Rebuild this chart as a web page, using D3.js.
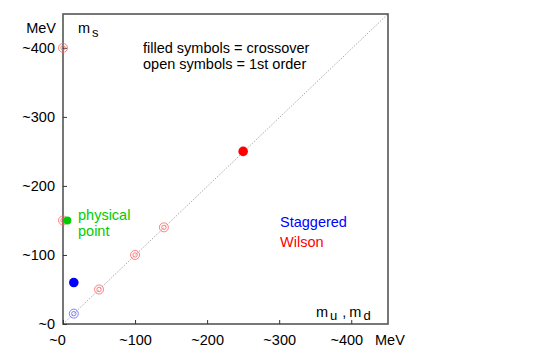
<!DOCTYPE html>
<html>
<head>
<script src="https://cdn.jsdelivr.net/npm/d3@7"></script>
<style>
  body { margin: 0; background: #fff; }
  svg { font-family: "Liberation Sans", Arial, sans-serif; }
</style>
</head>
<body>
<svg id="svg" width="540" height="360"></svg>
<script>
// data (MeV)
var xTicks = [0, 100, 200, 300, 400];
var yTicks = [0, 100, 200, 300, 400];
var wilsonOpen = [[0, 400], [0, 150], [50, 50], [100, 100], [140, 140]];
var wilsonFilled = [[250, 250]];
var staggeredOpen = [[15, 15]];
var staggeredFilled = [[15, 60]];
var physicalPoint = [[6, 150]];

// plot box (note: "top" is a reserved window property, so use other names)
var plotL = 63, plotR = 388, plotT = 14, plotB = 324;
var fs = 14.5;
var svg = d3.select("#svg");

var x = d3.scaleLinear().domain([0, 451]).range([plotL, plotR]);
var y = d3.scaleLinear().domain([0, 449]).range([plotB, plotT]);

// diagonal
svg.append("line")
  .attr("x1", x(0)).attr("y1", y(0))
  .attr("x2", x(451)).attr("y2", y(449))
  .attr("stroke", "#aaa").attr("stroke-width", 1)
  .attr("stroke-dasharray", "1.5,1.5");

// frame
svg.append("rect")
  .attr("x", plotL).attr("y", plotT)
  .attr("width", plotR - plotL).attr("height", plotB - plotT)
  .attr("fill", "none").attr("stroke", "#555").attr("stroke-width", 1.6);

// axes
var xAxis = d3.axisBottom(x).tickValues(xTicks).tickSize(-4).tickFormat(function(d){ return "~" + d; });
var gX = svg.append("g").attr("transform", "translate(0," + plotB + ")").call(xAxis);
var yAxis = d3.axisLeft(y).tickValues(yTicks).tickSize(-4).tickFormat(function(d){ return "~" + d; });
var gY = svg.append("g").attr("transform", "translate(" + plotL + ",0)").call(yAxis);
[gX, gY].forEach(function(g){
  g.select(".domain").remove();
  g.selectAll("line").attr("stroke", "#333");
  g.selectAll("text").attr("font-size", fs).attr("fill", "#000")
    .style("font-family", "'Liberation Sans', Arial, sans-serif");
});
gX.selectAll("text").attr("y", 6).attr("dy", "1em").attr("x", function(d){ return d === 0 ? -6 : (d === 400 ? -5 : 0); });
gY.selectAll("text").attr("x", -8);

function openSym(data, color) {
  var g = svg.append("g");
  g.selectAll(".o").data(data).enter().append("circle")
    .attr("cx", function(d){ return x(d[0]); }).attr("cy", function(d){ return y(d[1]); })
    .attr("r", 4.5).attr("fill", "none").attr("stroke", color).attr("stroke-width", 0.8);
  g.selectAll(".i").data(data).enter().append("circle")
    .attr("cx", function(d){ return x(d[0]); }).attr("cy", function(d){ return y(d[1]); })
    .attr("r", 2.2).attr("fill", "none").attr("stroke", color).attr("stroke-width", 0.8);
}
function filledSym(data, color, r) {
  svg.append("g").selectAll("circle").data(data).enter().append("circle")
    .attr("cx", function(d){ return x(d[0]); }).attr("cy", function(d){ return y(d[1]); })
    .attr("r", r).attr("fill", color);
}
openSym(wilsonOpen, "#ff6060");
openSym(staggeredOpen, "#6060ff");
filledSym(wilsonFilled, "#ff0000", 4.8);
filledSym(staggeredFilled, "#0000ff", 4.8);
filledSym(physicalPoint, "#00cc00", 4);

function txt(tx, ty, s, color, anchor, size) {
  return svg.append("text").attr("x", tx).attr("y", ty).attr("font-size", size || fs)
    .attr("fill", color || "#000").attr("text-anchor", anchor || "start").text(s);
}
txt(56, 33, "MeV", "#000", "end");
var ms = txt(78, 33, "m");
ms.append("tspan").attr("dy", 4).attr("dx", 2).attr("font-size", 13).text("s");
txt(143, 53, "filled symbols = crossover", "#000", "start", 14.5);
txt(143, 69, "open symbols = 1st order", "#000", "start", 14.5);
txt(78, 220, "physical", "#00cc00");
txt(78, 236, "point", "#00cc00");
txt(280, 227, "Staggered", "#0000ff");
txt(280, 247, "Wilson", "#ff0000");
var mu = txt(316, 317, "m");
mu.append("tspan").attr("dy", 3).attr("dx", 2).attr("font-size", 13).text("u");
mu.append("tspan").attr("dy", -3).attr("dx", 5).text(",");
mu.append("tspan").attr("dx", 3).text("m");
mu.append("tspan").attr("dy", 3).attr("dx", 2).attr("font-size", 13).text("d");
txt(375, 345, "MeV");
</script>
</body>
</html>
